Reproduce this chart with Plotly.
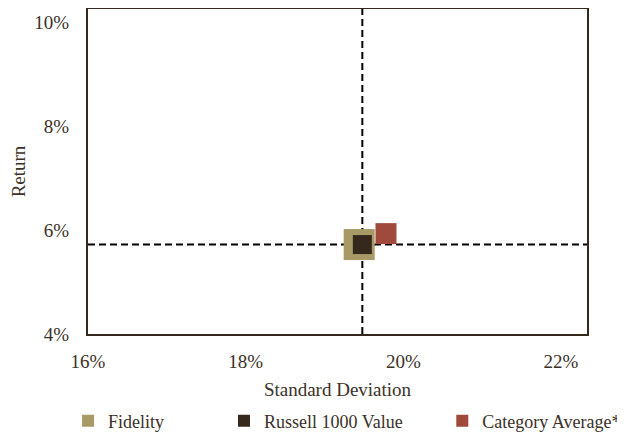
import plotly.graph_objects as go

# === DATA (percent) ===
names = ['Fidelity', 'Russell 1000 Value', 'Category Average*']
std_dev = [19.44, 19.48, 19.78]
returns = [5.72, 5.72, 5.93]
colors = ['#A89A67', '#35291D', '#A04A3B']
marker_sizes = [31, 19, 21]
legend_ids = ['legend', 'legend2', 'legend3']
legend_x = [-0.04, 0.2725, 0.71]

x_ticks = [16, 18, 20, 22]
x_labels = ['16%', '18%', '20%', '22%']
y_ticks = [4, 6, 8, 10]
y_labels = ['4%', '6%', '8%', '10%']

text_color = '#3B3128'
font_family = 'Liberation Serif, Times New Roman, serif'
font_size = 19

fig = go.Figure()

for name, sx, ry, col, sz, lg in zip(names, std_dev, returns, colors, marker_sizes, legend_ids):
    fig.add_trace(go.Scatter(
        x=[sx], y=[ry],
        mode='markers',
        name=name,
        legend=lg,
        marker=dict(symbol='square', size=sz, color=col, line=dict(width=0)),
        hovertemplate=f'{name}<br>Std Dev: %{{x}}%<br>Return: %{{y}}%<extra></extra>'
    ))

# crosshair on the benchmark
bench = names.index('Russell 1000 Value')
dash_line = dict(color='black', width=2, dash='7px,4px')
fig.add_vline(x=std_dev[bench], line=dash_line, layer='below')
fig.add_hline(y=returns[bench], line=dash_line, layer='below')

axis_common = dict(
    showgrid=False, zeroline=False,
    showline=True, linecolor='#35281C', linewidth=2, mirror=True,
    ticks='', automargin=False,
    tickfont=dict(size=font_size, color=text_color, family=font_family),
    title_font=dict(size=font_size, color=text_color, family=font_family),
)

# legend text a touch smaller so the last entry still fits the page
legend_common = dict(
    orientation='h', yanchor='middle', y=-0.268, xanchor='left',
    font=dict(size=18, color=text_color, family=font_family),
    itemsizing='constant', bgcolor='rgba(0,0,0,0)', tracegroupgap=0,
)

# page body adds an 8px offset, margins are shifted to compensate
fig.update_layout(
    width=625, height=432,
    margin=dict(l=80, r=46, t=1, b=106),
    showlegend=True,
    plot_bgcolor='white', paper_bgcolor='white',
    font=dict(family=font_family, color=text_color),
    xaxis=dict(range=[16, 22.33], tickvals=x_ticks, ticktext=x_labels,
               title=dict(text='Standard Deviation', standoff=12),
               ticklabelstandoff=9, **axis_common),
    yaxis=dict(range=[4, 10.25], tickvals=y_ticks, ticktext=y_labels,
               title=dict(text='Return', standoff=8),
               ticklabelstandoff=13, **axis_common),
    legend=dict(x=legend_x[0], **legend_common),
    legend2=dict(x=legend_x[1], **legend_common),
    legend3=dict(x=legend_x[2], **legend_common),
)

fig.write_html('out.html')
